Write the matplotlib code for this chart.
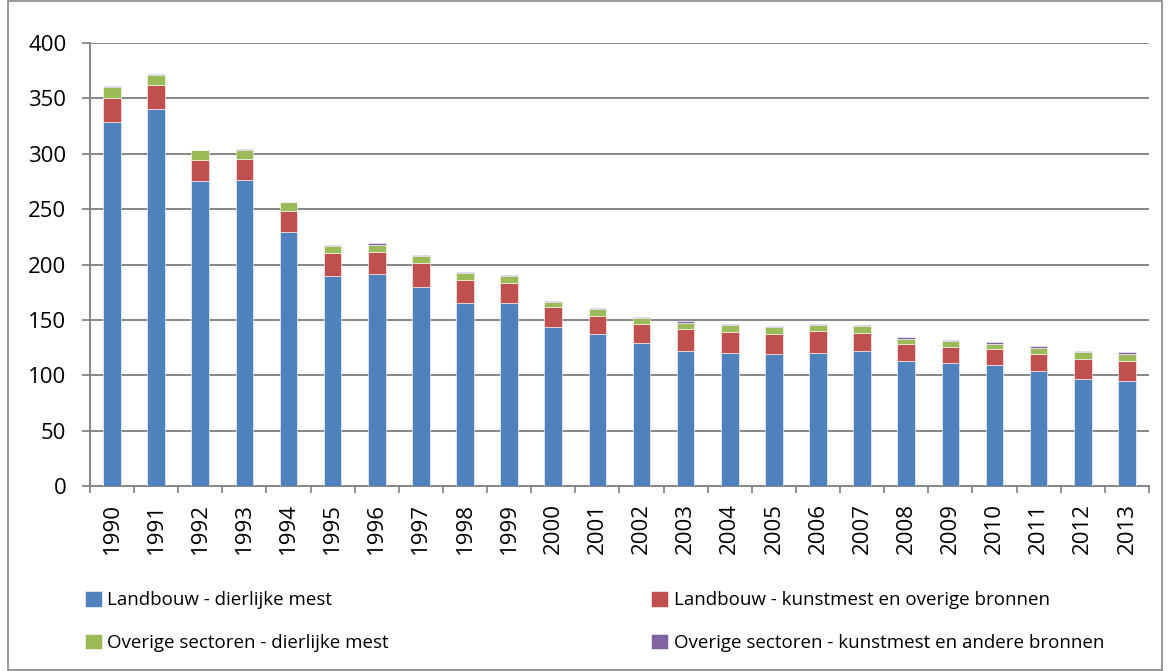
import matplotlib
matplotlib.use('Agg')
import matplotlib.pyplot as plt
import numpy as np
from matplotlib.patches import Rectangle

years = list(range(1990, 2014))

# Landbouw - dierlijke mest
landbouw_mest = [329, 340, 275, 276, 229.5, 190, 191, 180, 165.5, 165, 144, 137,
                 129, 122, 120.5, 119.5, 120, 122, 113, 111, 109, 104, 97, 94.5]
# Landbouw - kunstmest en overige bronnen
landbouw_kunst = [21.5, 22, 19, 19, 19, 20, 20.5, 21, 20.5, 18.5, 17.5, 16.5,
                  17.5, 20, 19, 18, 20, 16.5, 15, 14.5, 14.5, 15, 18, 18]
# Overige sectoren - dierlijke mest
overig_mest = [9.5, 9, 9, 8, 7.5, 6.5, 6.5, 7, 6, 6, 5, 6,
               5.5, 5, 5.5, 6, 5.5, 6, 5, 5, 5, 6, 6, 7]
# Overige sectoren - kunstmest en andere bronnen
overig_kunst = [1, 1, 0.8, 1, 0.7, 1, 1.2, 1, 1, 1, 1, 1,
                1, 1.8, 1.2, 1, 1.2, 1, 1.2, 1.2, 1.2, 1, 1.2, 1.2]

labels = ['Landbouw - dierlijke mest',
          'Landbouw - kunstmest en overige bronnen',
          'Overige sectoren - dierlijke mest',
          'Overige sectoren - kunstmest en andere bronnen']
colors = ['#4F81BD', '#C0504D', '#9BBB59', '#8064A2']

plt.rcParams['font.family'] = ['Open Sans', 'DejaVu Sans']

fig = plt.figure(figsize=(11.7, 6.71), dpi=100)
ax = fig.add_axes([0.0769, 0.2757, 0.9051, 0.6602])

x = np.arange(len(years))
series = [landbouw_mest, landbouw_kunst, overig_mest, overig_kunst]
bottom = np.zeros(len(years))
handles = []
for vals, col, lab in zip(series, colors, labels):
    b = ax.bar(x, vals, width=0.4, bottom=bottom, color=col, label=lab,
               edgecolor='white', linewidth=0.4, zorder=3)
    handles.append(b)
    bottom += np.array(vals)

ax.set_xlim(-0.5, len(years) - 0.5)
ax.set_ylim(0, 400)
ax.set_yticks(range(0, 401, 50))
ax.yaxis.grid(True, color='#868686', linewidth=1.4, zorder=0)
ax.set_axisbelow(True)

# x labels centred on bars, tick marks between categories
ax.set_xticks(x)
ax.set_xticklabels([str(y) for y in years], rotation=90, fontsize=16)
ax.tick_params(axis='x', which='major', length=0, pad=12)
ax.set_xticks(np.arange(-0.5, len(years), 1), minor=True)
ax.tick_params(axis='x', which='minor', length=5, width=1.3, color='#868686')
ax.tick_params(axis='y', length=6, width=1.3, color='#868686', labelsize=16, pad=11)

for s in ['top', 'right']:
    ax.spines[s].set_visible(False)
for s in ['left', 'bottom']:
    ax.spines[s].set_color('#868686')
    ax.spines[s].set_linewidth(1.4)

# legend in two columns below
order = [0, 2, 1, 3]
leg = fig.legend([handles[i] for i in order], [labels[i] for i in order],
                 loc='lower left', bbox_to_anchor=(0.058, 0.003), ncol=2,
                 frameon=False, fontsize=13.5, handlelength=0.9,
                 handleheight=0.9, handletextpad=0.3, columnspacing=14.0,
                 labelspacing=1.3)

# outer chart border
fig.patches.append(Rectangle((0.007, 0.001), 0.986, 0.997, transform=fig.transFigure,
                             fill=False, edgecolor='#868686', linewidth=1.2))

plt.savefig('out.png', dpi=100)
